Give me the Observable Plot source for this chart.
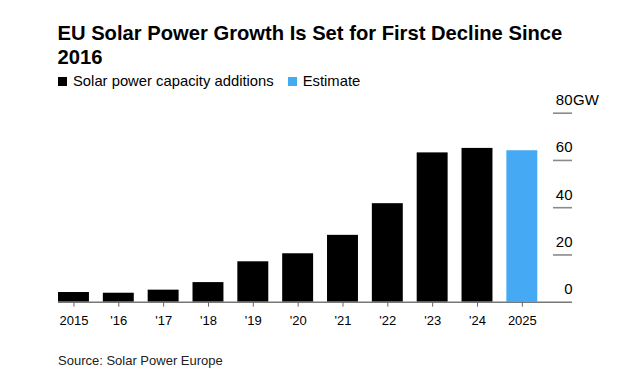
<!DOCTYPE html>
<html>
<head>
<meta charset="utf-8">
<script src="https://cdn.jsdelivr.net/npm/d3@7"></script>
<script src="https://cdn.jsdelivr.net/npm/@observablehq/plot@0.6"></script>
<style>
  body { margin: 0; background: #fff; font-family: "Liberation Sans", Arial, sans-serif; color: #000; }
  #wrap { position: relative; width: 625px; height: 385px; overflow: hidden; }
  #title { position: absolute; left: 57.5px; top: 20.5px; font-weight: bold; font-size: 20.2px; line-height: 24.5px; width: 566px; }
  #legend { position: absolute; left: 58px; top: 73px; font-size: 14.8px; line-height: 16px; display: flex; align-items: center; }
  #legend .sw { display: inline-block; width: 9px; height: 9px; margin-right: 6px; }
  #legend .item { display: flex; align-items: center; margin-right: 14px; }
  #chart { position: absolute; left: 0; top: 90px; }
  #source { position: absolute; left: 58px; top: 353px; font-size: 13px; line-height: 16px; color: #222; }
</style>
</head>
<body>
<div id="wrap">
  <div id="title">EU Solar Power Growth Is Set for First Decline Since<br>2016</div>
  <div id="legend"></div>
  <div id="chart"></div>
  <div id="source">Source: Solar Power Europe</div>
</div>
<script>
const years = [2015, 2016, 2017, 2018, 2019, 2020, 2021, 2022, 2023, 2024, 2025];
const additions = [4.1, 3.8, 5.1, 8.3, 17.1, 20.5, 28.3, 41.7, 63.2, 65.1, 64.1];
const estimateFlags = [false, false, false, false, false, false, false, false, false, false, true];
const tickLabels = ["2015", "'16", "'17", "'18", "'19", "'20", "'21", "'22", "'23", "'24", "2025"];
const yTicks = [0, 20, 40, 60, 80];
const seriesNames = ["Solar power capacity additions", "Estimate"];
const seriesColors = ["#000000", "#45a9f4"];

const data = years.map((y, i) => ({
  year: y,
  value: additions[i],
  type: estimateFlags[i] ? seriesNames[1] : seriesNames[0]
}));

const legend = document.getElementById("legend");
seriesNames.forEach((n, i) => {
  const it = document.createElement("span");
  it.className = "item";
  it.innerHTML = `<span class="sw" style="background:${seriesColors[i]}"></span><span>${n}</span>`;
  legend.appendChild(it);
});

const chart = Plot.plot({
  width: 625,
  height: 245,
  marginLeft: 58,
  marginRight: 53,
  marginTop: 22.7,
  marginBottom: 33.3,
  style: { fontFamily: "Liberation Sans, Arial, sans-serif", color: "#000", background: "transparent" },
  x: { type: "band", domain: years, paddingInner: 0.31, paddingOuter: 0.387, align: 0, round: false, axis: null, label: null },
  y: { domain: [0, 80], axis: null },
  color: { domain: seriesNames, range: seriesColors },
  marks: [
    Plot.ruleY(yTicks.filter(d => d > 0), { y: d => d, insetLeft: 495, stroke: "#8a8a8a", strokeWidth: 1.6 }),
    Plot.barY(data, { x: "year", y: "value", fill: "type" }),
    Plot.ruleY([0], { stroke: "#777", strokeWidth: 1.5 }),
    Plot.text(yTicks, { y: d => d, text: d => String(d), frameAnchor: "right", textAnchor: "end", dy: -13, fontSize: 15, fill: "#000" }),
    Plot.text([80], { y: d => d, text: () => "GW", frameAnchor: "right", textAnchor: "start", dy: -13, dx: 0.5, fontSize: 15, fill: "#000" }),
    Plot.axisX({ tickSize: 5, tickPadding: 8.5, fontSize: 13, stroke: "#666", fill: "#000", label: null, tickFormat: d => tickLabels[years.indexOf(d)] })
  ]
});
document.getElementById("chart").appendChild(chart);
</script>
</body>
</html>
